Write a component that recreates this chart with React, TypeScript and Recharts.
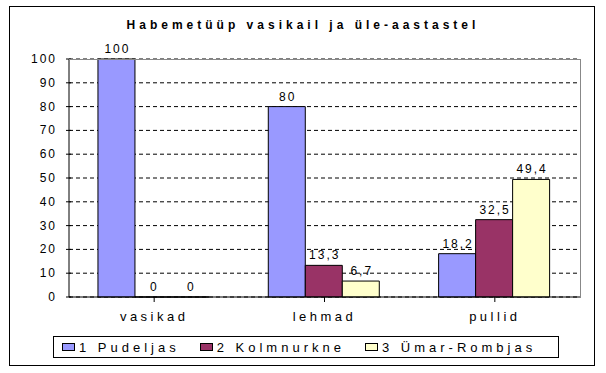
import React from 'react';
import { BarChart, Bar, XAxis, YAxis, CartesianGrid } from 'recharts';

const categories = ['vasikad', 'lehmad', 'pullid'];
const pudeljas = [100, 80, 18.2];
const kolmnurkne = [0, 13.3, 32.5];
const umarRombjas = [0, 6.7, 49.4];
const yTicks = [0, 10, 20, 30, 40, 50, 60, 70, 80, 90, 100];

const series = [
    { key: 'p', name: '1 Pudeljas', color: '#9999FF' },
    { key: 'k', name: '2 Kolmnurkne', color: '#993366' },
    { key: 'u', name: '3 Ümar-Rombjas', color: '#FFFFCC' },
];

const data = categories.map((c, i) => ({
    name: c,
    p: pudeljas[i],
    k: kolmnurkne[i],
    u: umarRombjas[i],
}));

const FONT = 'Arial, "Liberation Sans", sans-serif';

const fmt = (v: any) => String(v).replace('.', ',');

const YTick = (props: any) => {
    const { x, y, payload } = props;
    return (
        <g>
            <line x1={x + 5} x2={x + 10} y1={y} y2={y} stroke="#000" />
            <text x={x - 4} y={y + 4} textAnchor="end" fontSize={12} fontFamily={FONT} letterSpacing={2} fill="#000">
                {payload.value}
            </text>
        </g>
    );
};

// value label above each bar, also for zero-height bars
const BarLabel = (props: any) => {
    const { x, y, width, value } = props;
    return (
        <text x={x + width / 2 + 1} y={y - 6} textAnchor="middle" fontSize={12} fontFamily={FONT} letterSpacing={2} fill="#000">
            {fmt(value)}
        </text>
    );
};

const App: React.FC = () => {
    return (
        <div style={{ position: 'relative', width: 606, height: 373, background: '#fff', fontFamily: FONT }}>
            <style>{'body{margin:0}'}</style>
            {/* outer frame */}
            <div style={{ position: 'absolute', left: 9, top: 6, width: 584, height: 358, border: '1px solid #000' }} />

            <div style={{ position: 'absolute', left: 0, top: 18, width: 606, textAlign: 'center', fontSize: 12, fontWeight: 'bold', letterSpacing: 4 }}>
                Habemetüüp vasikail ja üle-aastastel
            </div>

            <div style={{ position: 'absolute', left: 0, top: 0 }}>
                <BarChart width={606} height={373} data={data}
                    margin={{ top: 59, right: 26, bottom: 46, left: 0 }}
                    barCategoryGap="17%" barGap={0}>
                    <CartesianGrid vertical={false} stroke="#000" strokeDasharray="4 3" />
                    <XAxis dataKey="name" height={30} axisLine={{ stroke: '#000' }} tickLine={{ stroke: '#000' }}
                        tick={{ fontSize: 13, fontFamily: FONT, fill: '#000', letterSpacing: 3.5 } as any}
                        tickSize={5} tickMargin={10} interval={0} />
                    <YAxis domain={[0, 100]} ticks={yTicks} width={69} axisLine={{ stroke: '#000' }}
                        tickLine={false} tick={<YTick />} interval={0} />
                    {series.map((s) => (
                        <Bar key={s.key} dataKey={s.key} name={s.name} fill={s.color} stroke="#000" strokeWidth={1}
                            minPointSize={0.01} isAnimationActive={false} label={<BarLabel />} />
                    ))}
                </BarChart>
            </div>

            {/* plot frame: top and right border */}
            <div style={{ position: 'absolute', left: 69, top: 59, width: 511, height: 238, borderTop: '1px solid #888', borderRight: '1px solid #888', pointerEvents: 'none' }} />

            {/* legend */}
            <div style={{ position: 'absolute', left: 53, top: 336, width: 506, height: 22, border: '1px solid #000', display: 'flex', alignItems: 'center', paddingLeft: 8, boxSizing: 'border-box', whiteSpace: 'nowrap' }}>
                {series.map((s) => (
                    <div key={s.key} style={{ display: 'flex', alignItems: 'center', marginRight: 20, flexShrink: 0 }}>
                        <div style={{ width: 11, height: 6, background: s.color, border: '1px solid #000', marginRight: 4 }} />
                        <span style={{ fontSize: 13, letterSpacing: 4 }}>{s.name}</span>
                    </div>
                ))}
            </div>
        </div>
    );
};

export default App;
